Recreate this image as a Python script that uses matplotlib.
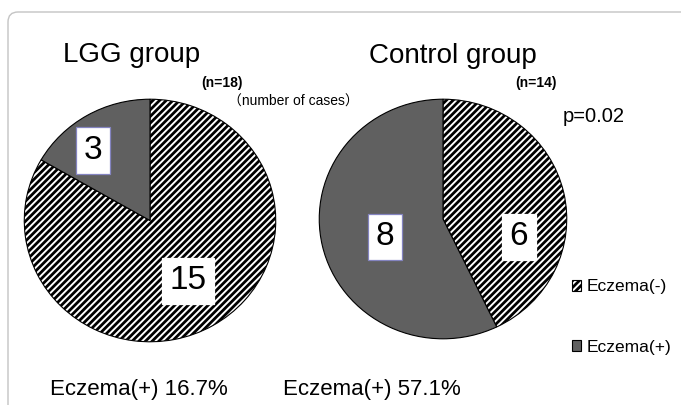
import numpy as np
import matplotlib
matplotlib.use('Agg')
import matplotlib.pyplot as plt
from matplotlib.patches import FancyBboxPatch
from matplotlib.transforms import IdentityTransform

plt.rcParams['font.family'] = ['Liberation Sans', 'Noto Sans CJK JP']
plt.rcParams['hatch.linewidth'] = 2.0

# number of cases, order: Eczema(-), Eczema(+)
categories = ['Eczema(-)', 'Eczema(+)']
lgg_cases = [15, 3]
control_cases = [6, 8]
group_names = ['LGG group', 'Control group']
n_labels = ['(n=18)', '(n=14)']
p_value = 'p=0.02'

GRAY = '#606060'

fig = plt.figure(figsize=(6.81, 4.05), dpi=100)

# rounded panel border
frame = FancyBboxPatch((8, -40), 720, 405 - 12 + 40, boxstyle='round,pad=0,rounding_size=10',
                       transform=IdentityTransform(), facecolor='none', edgecolor='#c4c4c4', lw=1.0)
fig.patches.append(frame)

def draw_pie(rect, values, label_xy, edge_on):
    ax = fig.add_axes(rect)
    wedges, _ = ax.pie(values, startangle=90, counterclock=False, radius=1,
                       colors=['white', GRAY],
                       wedgeprops=dict(edgecolor='black', linewidth=0.8))
    wedges[0].set_hatch('/////')
    ax.set_aspect('auto')
    ax.set_xlim(-1.01, 1.01)
    ax.set_ylim(-1.01, 1.01)
    for v, (x, y), e in zip(values, label_xy, edge_on):
        ax.text(x, y, str(v), fontsize=24, ha='center', va='center',
                bbox=dict(boxstyle='square,pad=0.23', facecolor='white',
                          edgecolor='#8484c0' if e else 'white', lw=0.9))
    return wedges

wedges = draw_pie([23/681, 62/405, 254/681, 245/405], lgg_cases,
                  [(0.303, -0.498), (-0.453, 0.576)], [False, True])
draw_pie([318/681, 65/405, 250/681, 242/405], control_cases,
         [(0.612, -0.149), (-0.472, -0.149)], [False, True])

def px(x, y):
    return x / 681, 1 - y / 405

fig.text(*px(63, 62), group_names[0], fontsize=20, ha='left', va='baseline')
fig.text(*px(369, 63), group_names[1], fontsize=20, ha='left', va='baseline')
fig.text(*px(201, 83), n_labels[0], fontsize=10, fontweight='bold', ha='left', va='center')
fig.text(*px(515, 83), n_labels[1], fontsize=10, fontweight='bold', ha='left', va='center')
fig.text(*px(228, 102), '（number of cases）', fontsize=10, ha='left', va='center')
fig.text(*px(563, 116), p_value, fontsize=14.5, ha='left', va='center')

lgg_pct = 100 * lgg_cases[1] / sum(lgg_cases)
ctl_pct = 100 * control_cases[1] / sum(control_cases)
fig.text(*px(50, 390), 'Eczema(+) %.1f%%' % lgg_pct, fontsize=16, ha='left', va='center')
fig.text(*px(283, 390), 'Eczema(+) %.1f%%' % ctl_pct, fontsize=16, ha='left', va='center')

fig.legend(wedges, categories, loc='center left', bbox_to_anchor=(563/681, 1 - 317/405),
           frameon=False, fontsize=12.5, handlelength=0.55, handleheight=0.55,
           handletextpad=0.3, labelspacing=2.6, borderpad=0)

fig.savefig('out.png', dpi=100)
